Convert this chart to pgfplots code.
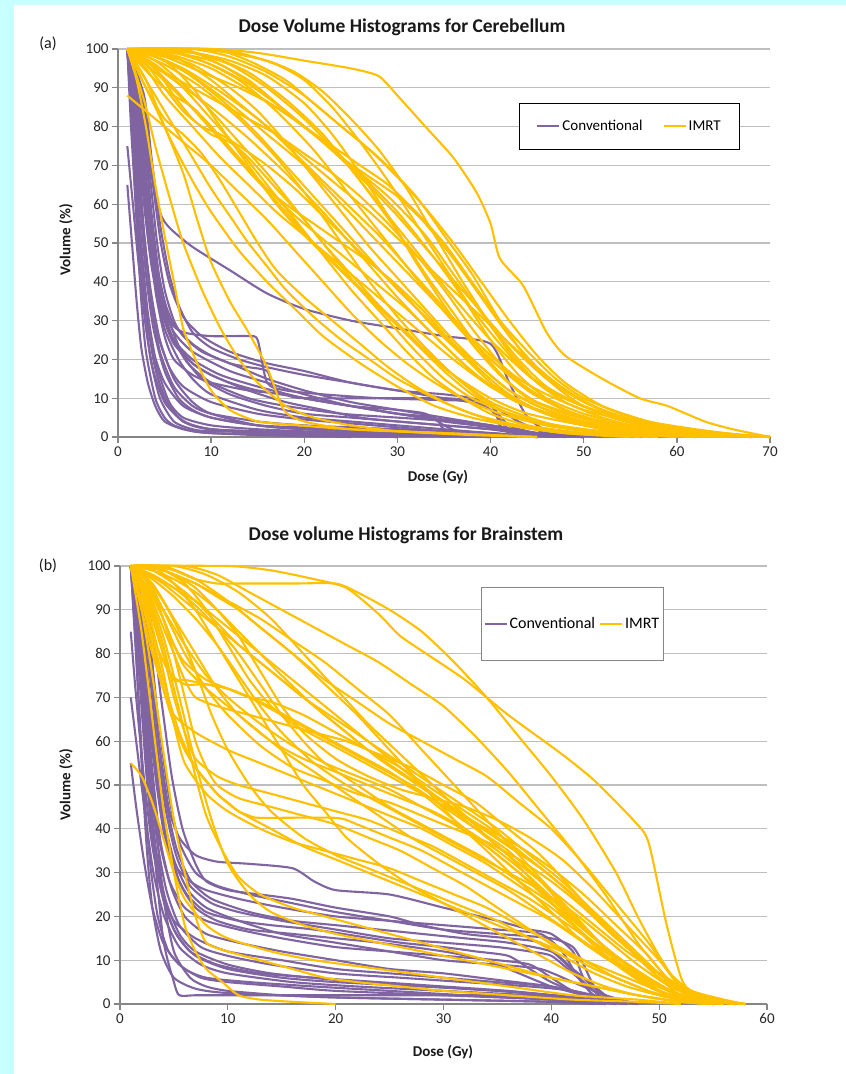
\documentclass[border=0pt]{standalone}
\usepackage{fontspec}
\setmainfont{Carlito}
\usepackage{pgfplots}
\pgfplotsset{compat=1.18}
\definecolor{convc}{HTML}{8064A2}
\definecolor{imrtc}{HTML}{FFC000}
\definecolor{bgcyan}{HTML}{C8FFFF}
\definecolor{gridc}{HTML}{BEBEBE}
\definecolor{axc}{HTML}{868686}
\pgfplotsset{
  conv/.style={color=convc, line width=2.1pt, forget plot, smooth, tension=0.4},
  imrt/.style={color=imrtc, line width=2.1pt, forget plot, smooth, tension=0.4},
  dvh/.style={
    scale only axis, clip=false,
    ymin=0, ymax=100, ytick={0,10,...,100},
    axis x line*=bottom, axis y line*=left,
    axis line style={-, color=axc, line width=1.3pt},
    tick style={color=axc, line width=1.3pt},
    tick align=outside, major tick length=6pt,
    ymajorgrids, grid style={color=gridc, line width=1.3pt},
    /pgf/number format/assume math mode=true,
    ticklabel style={font=\fontsize{15}{18}\selectfont, color=black!85},
    legend columns=2,
    legend image code/.code={\draw[#1, line width=2.1pt] (0pt,0pt) -- (22pt,0pt);},
  }
}
\begin{document}
\begin{tikzpicture}
\fill[bgcyan] (0pt,0pt) rectangle (846pt,-1074pt);
\fill[white] (14pt,-5pt) rectangle (846pt,-1074pt);
\node[font=\bfseries\fontsize{19.5}{22}\selectfont, color=black!90] at (402pt,-27pt) {Dose Volume Histograms for Cerebellum};
\node[font=\fontsize{16}{19}\selectfont, color=black!90] at (48pt,-44pt) {(a)};
\node[font=\bfseries\fontsize{15}{18}\selectfont, color=black!90] at (438pt,-477pt) {Dose (Gy)};
\node[font=\bfseries\fontsize{15}{18}\selectfont, rotate=90, color=black!90] at (66pt,-240pt) {Volume (\%)};
\node[font=\bfseries\fontsize{19.5}{22}\selectfont, color=black!90] at (406pt,-535pt) {Dose volume Histograms for Brainstem};
\node[font=\fontsize{16}{19}\selectfont, color=black!90] at (48pt,-566pt) {(b)};
\node[font=\bfseries\fontsize{15}{18}\selectfont, color=black!90] at (443pt,-1052pt) {Dose (Gy)};
\node[font=\bfseries\fontsize{15}{18}\selectfont, rotate=90, color=black!90] at (66pt,-785pt) {Volume (\%)};

% ---------------- Panel (a) ----------------
\begin{axis}[dvh, at={(118pt,-437pt)}, anchor=south west,
  width=652pt, height=388pt, xmin=0, xmax=70, xtick={0,10,...,70},
  legend style={at={(0.615,0.861)}, anchor=north west, draw=black, line width=0.8pt,
    font=\fontsize{15}{18}\selectfont, inner xsep=17pt, inner ysep=15pt,
    /tikz/every even column/.append style={column sep=18pt}}]
\addlegendimage{color=convc}\addlegendentry{Conventional}
\addlegendimage{color=imrtc}\addlegendentry{IMRT}
% Conventional
\addplot[conv] coordinates {(1,100)(1.5,80)(2,55)(2.5,35)(3,22)(4,10)(5,5)(6,3)(8,1.5)(10,1)(15,0.5)(25,0)};
\addplot[conv] coordinates {(1,100)(1.7,80)(2.3,55)(3,35)(3.8,20)(5,10)(7,4)(10,2)(20,1)(30,0.3)(40,0)};
\addplot[conv] coordinates {(1,100)(2,80)(2.7,55)(3.5,38)(4.5,25)(6,15)(8,9)(10,6)(15,3)(20,2)(30,1)(40,0.5)(50,0)};
\addplot[conv] coordinates {(1,100)(2.2,82)(3,60)(3.8,42)(5,28)(6.5,20)(8,15)(10,11)(15,7)(20,5)(25,4)(30,3)(35,2)(40,1)(45,0)};
\addplot[conv] coordinates {(1,100)(2.5,85)(3.3,65)(4,45)(5,33)(6,27)(8,22)(12,17)(16,14)(20,11)(25,8)(30,6)(35,4)(40,2.5)(45,0.5)(50,0)};
\addplot[conv] coordinates {(1,100)(2.5,88)(3.5,70)(4.5,58)(5.5,54)(8,49)(12,43)(16,37)(20,33)(25,30)(30,28)(35,26)(40,24)(42,14)(44,5)(47,0)};
\addplot[conv] coordinates {(1,100)(2.5,88)(3.5,60)(4.5,40)(5.5,30)(7,27)(10,26)(14,26)(15,25)(16,14)(18,12)(22,11)(28,10)(35,9.5)(40,9)(41,3)(43,1)(45,0)};
\addplot[conv] coordinates {(1,100)(2,85)(3,60)(4,38)(5,26)(6,20)(8,16)(10,14)(14,12)(18,11)(20,10)(35,10)(38,9)(40,7)(42,2)(45,0)};
\addplot[conv] coordinates {(1,100)(1.8,75)(2.5,50)(3.2,32)(4.2,18)(5.5,9)(7,5)(10,3)(15,2)(25,1)(35,0.5)(45,0)};
\addplot[conv] coordinates {(1,100)(2.2,80)(3,58)(4,40)(5,30)(6,24)(8,19)(10,16)(14,12)(18,9)(22,7)(26,5)(30,4)(35,3)(40,2)(44,0.5)(48,0)};
\addplot[conv] coordinates {(1,100)(2.4,83)(3.2,62)(4,46)(5,35)(6,29)(8,24)(10,21)(13,18)(16,15)(20,12)(25,9)(30,7)(35,5)(40,3)(45,1)(50,0)};
\addplot[conv] coordinates {(1,100)(1.5,85)(2,65)(2.5,45)(3,30)(3.5,20)(4.5,10)(6,4)(8,2)(10,1.5)(20,1)(30,0.5)(40,0)};
\addplot[conv] coordinates {(1,100)(2,78)(2.8,52)(3.6,34)(4.5,22)(6,13)(8,8)(10,6)(15,4)(20,3)(30,2)(40,1)(45,0)};
\addplot[conv] coordinates {(1,100)(2.6,86)(3.4,68)(4.2,50)(5,38)(6,30)(7,26)(9,22)(12,19)(14,18)(16,17)(17,12)(20,10)(25,8)(30,6)(34,5)(35,2)(38,1)(42,0)};
\addplot[conv] coordinates {(1,100)(2.3,82)(3.1,60)(4,42)(5,31)(6,25)(8,20)(11,16)(15,13)(20,10)(25,8)(30,7)(33,6)(35,3)(37,1)(40,0)};
\addplot[conv] coordinates {(1,100)(2,80)(2.6,58)(3.3,40)(4.2,27)(5.5,18)(7,13)(10,9)(15,6)(20,4.5)(25,3.5)(30,2.5)(35,1.5)(40,1)(45,0)};
\addplot[conv] coordinates {(1,100)(1.6,80)(2.1,58)(2.7,40)(3.4,26)(4.3,15)(5.5,8)(7,4)(10,2)(15,1.5)(25,1)(40,0.5)(50,0)};
\addplot[conv] coordinates {(1,100)(2.8,88)(3.6,72)(4.5,55)(5.5,42)(6.5,34)(8,27)(10,23)(13,20)(16,18)(20,16)(25,14)(30,12)(35,11)(38,10)(40,8)(42,3)(45,1)(50,0)};
\addplot[conv] coordinates {(1,100)(2.4,84)(3.2,62)(4.2,44)(5.5,30)(7,21)(9,15)(12,11)(16,8)(20,6)(25,5)(30,4)(35,3)(40,2)(45,1)(50,0.3)(52,0)};
\addplot[conv] coordinates {(1,100)(1.8,82)(2.4,60)(3,42)(3.8,28)(5,17)(6.5,10)(8,7)(10,5)(15,3)(20,2)(30,1)(40,0.5)(50,0)};
\addplot[conv] coordinates {(1,65)(1.5,50)(2,35)(2.5,23)(3.2,14)(4,8)(5,4)(7,2)(10,1)(20,0.5)(30,0)};
\addplot[conv] coordinates {(1,75)(1.6,60)(2.2,45)(2.9,32)(3.8,22)(5,14)(7,8)(10,5)(15,3)(25,2)(35,1)(45,0)};
\addplot[conv] coordinates {(1,100)(2.1,84)(2.9,64)(3.7,47)(4.6,35)(5.8,26)(7.5,19)(10,14)(14,10)(18,8)(24,6)(30,5)(36,4)(40,3)(44,1)(48,0)};
\addplot[conv] coordinates {(1,100)(2.7,87)(3.6,68)(4.6,50)(5.6,39)(7,31)(9,26)(12,22)(16,19)(20,17)(25,14)(30,12)(35,10)(40,8)(43,4)(46,1)(50,0)};
\addplot[conv] coordinates {(1,100)(1.4,80)(1.9,60)(2.4,42)(3,28)(3.8,17)(5,9)(6.5,5)(8,3)(10,2)(15,1)(20,0.5)(30,0)};
\addplot[conv] coordinates {(1,100)(2,82)(2.8,60)(3.6,44)(4.6,33)(6,25)(8,19)(10,16)(12,14)(15,12)(20,10)(25,8)(30,6)(35,4.5)(40,3)(45,1)(50,0)};
% IMRT
\addplot[imrt] coordinates {(1,100)(10,100)(15,99)(20,97)(25,95)(28,93)(30,88)(33,80)(36,72)(38.5,63)(40,55)(41,46)(43.5,39)(46,27)(48,21)(52,15)(56,10)(59,8)(63,4)(66,2)(70,0)};
\addplot[imrt] coordinates {(1,100)(8,100)(12,98)(16,94)(20,88)(24,80)(28,72)(32,62)(35,52)(38,42)(41,30)(44,20)(47,13)(50,8)(55,4)(60,2)(65,0.5)(70,0)};
\addplot[imrt] coordinates {(1,100)(5,99)(10,95)(15,88)(20,80)(25,70)(30,58)(34,46)(37,36)(40,25)(43,16)(46,10)(50,6)(55,3)(62,1)(70,0)};
\addplot[imrt] coordinates {(1,100)(4,98)(8,93)(12,86)(16,78)(20,70)(24,60)(28,50)(32,40)(36,30)(40,20)(44,12)(48,7)(52,4)(58,2)(65,0.5)(70,0)};
\addplot[imrt] coordinates {(1,100)(6,100)(10,98)(14,94)(18,87)(22,78)(26,66)(30,53)(33,42)(36,32)(39,22)(42,14)(45,9)(50,5)(55,3)(60,1.5)(68,0)};
\addplot[imrt] coordinates {(1,100)(3,97)(6,92)(10,85)(14,77)(18,68)(22,58)(26,47)(30,36)(34,26)(38,17)(42,10)(46,6)(50,3)(55,1)(60,0)};
\addplot[imrt] coordinates {(1,100)(5,98)(9,94)(13,90)(17,85)(21,78)(25,70)(29,62)(33,52)(36,42)(39,32)(42,22)(45,14)(48,9)(52,5)(57,2)(63,0.5)(70,0)};
\addplot[imrt] coordinates {(1,100)(4,96)(7,90)(10,82)(13,74)(16,65)(19,56)(22,47)(25,38)(28,30)(31,22)(34,15)(37,10)(40,6)(44,3)(50,1)(56,0)};
\addplot[imrt] coordinates {(1,100)(3,95)(5,88)(8,80)(11,72)(14,65)(17,58)(20,52)(24,44)(28,36)(32,28)(36,20)(40,13)(44,8)(48,5)(54,2)(60,0.5)(66,0)};
\addplot[imrt] coordinates {(1,100)(8,99)(12,97)(16,93)(20,86)(23,78)(26,68)(29,57)(32,45)(35,34)(38,24)(41,16)(44,10)(48,6)(53,3)(60,1)(68,0)};
\addplot[imrt] coordinates {(1,100)(6,99)(10,97)(14,92)(17,86)(20,80)(23,75)(26,70)(29,65)(32,58)(35,50)(38,40)(41,30)(44,22)(47,15)(50,10)(54,6)(58,3)(63,1)(70,0)};
\addplot[imrt] coordinates {(1,100)(2,95)(4,85)(6,75)(8,66)(10,58)(13,48)(16,40)(19,33)(22,26)(26,19)(30,13)(34,8)(38,5)(42,3)(48,1)(55,0)};
\addplot[imrt] coordinates {(1,100)(2,93)(3,85)(4,75)(5.5,62)(7,50)(9,38)(11,28)(13,20)(15,14)(18,8)(21,5)(25,3)(30,1.5)(38,0.5)(45,0)};
\addplot[imrt] coordinates {(1,100)(2,92)(3,80)(4,65)(5,52)(6,40)(7,28)(8.5,19)(10,12)(12,7)(15,4)(19.5,3)(25,2)(35,1)(45,0)};
\addplot[imrt] coordinates {(1,100)(3,92)(5,80)(7,68)(8.5,56)(10,45)(12,35)(14,27)(16,18)(17.8,7)(20,4)(25,2)(35,1)(45,0)};
\addplot[imrt] coordinates {(1,100)(4,97)(7,91)(10,84)(13,76)(16,68)(19,59)(22,50)(25,42)(28,34)(31,27)(34,20)(37,14)(40,9)(43,6)(47,3)(52,1.5)(58,0.5)(65,0)};
\addplot[imrt] coordinates {(1,100)(5,97)(8,90)(11,80)(14,70)(17,60)(20,52)(23,45)(26,38)(29,31)(32,24)(35,17)(38,11)(41,7)(45,4)(50,2)(56,0.5)(62,0)};
\addplot[imrt] coordinates {(1,100)(10,100)(14,97)(18,92)(21,86)(24,80)(27,74)(30,67)(33,59)(36,50)(39,40)(42,30)(45,21)(48,14)(52,8)(57,4)(62,2)(67,0.5)(70,0)};
\addplot[imrt] coordinates {(1,100)(3,99)(6,96)(9,91)(12,85)(15,78)(18,70)(21,62)(24,54)(27,46)(30,38)(33,31)(36,24)(39,18)(42,12)(45,8)(50,4)(56,1.5)(62,0)};
\addplot[imrt] coordinates {(1,100)(2,97)(4,92)(6,88)(8,85)(10,80)(12,74)(15,66)(18,58)(21,50)(24,43)(27,36)(30,29)(33,22)(36,16)(40,10)(44,6)(50,3)(56,1)(62,0)};
\addplot[imrt] coordinates {(1,100)(3,96)(5,90)(7,84)(9,80)(11,78)(13,75)(16,70)(19,64)(22,57)(25,50)(28,43)(31,36)(34,28)(37,21)(40,14)(43,9)(47,5)(52,2)(58,0.5)(64,0)};
\addplot[imrt] coordinates {(1,100)(6,98)(10,92)(13,86)(16,80)(19,73)(22,66)(25,59)(28,52)(31,44)(34,36)(37,28)(40,21)(43,15)(46,11)(50,7)(55,4)(60,2)(65,1)(70,0)};
\addplot[imrt] coordinates {(1,100)(4,99)(8,96)(12,90)(15,84)(18,76)(21,67)(24,58)(27,49)(30,41)(33,33)(36,25)(39,18)(42,12)(46,7)(50,4)(56,1.5)(62,0)};
\addplot[imrt] coordinates {(1,100)(2,98)(5,94)(8,90)(11,86)(14,82)(17,78)(20,73)(23,68)(26,62)(29,55)(32,47)(35,38)(38,28)(41,19)(44,12)(47,8)(51,4)(56,2)(62,0.5)(68,0)};
\addplot[imrt] coordinates {(1,100)(3,90)(5,82)(7,78)(9,73)(11,66)(13,58)(15,50)(17,43)(20,36)(23,30)(26,24)(29,18)(32,13)(35,9)(38,6)(42,3)(48,1)(55,0)};
\addplot[imrt] coordinates {(1,100)(7,100)(11,96)(15,90)(18,84)(21,78)(24,72)(27,67)(30,62)(33,55)(36,46)(39,36)(42,26)(45,18)(48,12)(52,7)(57,3)(63,1)(70,0)};
\addplot[imrt] coordinates {(1,100)(4,95)(6,88)(8,82)(10,78)(12,76)(14,72)(17,64)(20,56)(23,47)(26,38)(29,30)(32,22)(35,15)(38,10)(42,6)(47,3)(53,1)(60,0)};
\addplot[imrt] coordinates {(1,88)(2,86)(4,82)(7,76)(10,70)(13,63)(16,56)(19,48)(22,40)(25,32)(28,25)(31,19)(34,14)(37,10)(41,6)(46,3)(52,1)(58,0)};
\addplot[imrt] coordinates {(1,100)(5,96)(9,90)(13,82)(17,72)(21,60)(24,50)(27,40)(30,31)(33,23)(36,16)(39,10)(42,6)(46,3)(52,1)(58,0)};
\addplot[imrt] coordinates {(1,100)(9,100)(13,99)(17,96)(20,92)(23,85)(26,76)(29,66)(32,55)(35,44)(38,33)(41,24)(44,16)(47,11)(51,7)(56,4)(61,2)(66,0.5)(70,0)};
\addplot[imrt] coordinates {(1,100)(4,100)(8,99)(12,96)(16,90)(20,82)(24,72)(28,60)(32,48)(36,36)(40,25)(44,16)(48,10)(53,5)(58,2)(64,0.5)(70,0)};
\addplot[imrt] coordinates {(1,100)(5,100)(9,97)(13,92)(17,84)(21,74)(25,62)(29,50)(33,38)(37,27)(41,18)(45,11)(49,6)(54,3)(60,1)(66,0)};
\addplot[imrt] coordinates {(1,100)(3,99)(7,95)(11,89)(15,82)(19,74)(23,66)(27,58)(31,49)(35,40)(39,31)(43,22)(47,14)(51,8)(56,4)(62,1.5)(68,0)};
\addplot[imrt] coordinates {(1,100)(6,99)(10,96)(14,91)(18,84)(22,76)(26,67)(30,57)(34,46)(38,35)(42,24)(46,15)(50,9)(55,4)(61,1.5)(68,0)};
\addplot[imrt] coordinates {(1,100)(2,98)(4,94)(7,87)(10,80)(13,72)(16,64)(19,57)(22,51)(25,45)(28,39)(31,33)(34,26)(37,19)(40,13)(44,8)(49,4)(55,1.5)(62,0)};
\addplot[imrt] coordinates {(1,100)(8,100)(12,99)(16,97)(19,94)(22,89)(25,82)(28,74)(31,64)(34,52)(37,40)(40,29)(43,20)(46,13)(50,8)(55,4)(60,2)(66,0.5)(70,0)};
\addplot[imrt] coordinates {(1,100)(3,97)(6,90)(9,82)(12,74)(15,66)(18,60)(21,55)(24,50)(27,45)(30,39)(33,32)(36,24)(39,17)(42,11)(46,6)(51,3)(57,1)(63,0)};
\addplot[imrt] coordinates {(1,100)(2,96)(4,88)(6,80)(8,72)(10,64)(12,57)(14,50)(16,44)(18,38)(21,31)(24,25)(27,20)(30,15)(34,10)(38,6)(43,3)(50,1)(57,0)};
\end{axis}

% ---------------- Panel (b) ----------------
\begin{axis}[dvh, at={(120pt,-1004pt)}, anchor=south west,
  width=647pt, height=438pt, xmin=0, xmax=60, xtick={0,10,...,60},
  legend style={at={(0.558,0.952)}, anchor=north west, draw=axc, line width=1pt,
    font=\fontsize{16}{19}\selectfont, inner xsep=2pt, inner ysep=28pt,
    /tikz/every even column/.append style={column sep=2pt}}]
\addlegendimage{color=convc}\addlegendentry{Conventional}
\addlegendimage{color=imrtc}\addlegendentry{IMRT}
% Conventional
\addplot[conv] coordinates {(1,100)(2,75)(3,40)(4,15)(5,5)(5.5,2)(7,2)(10,2)(20,2)(30,2)(40,2)(42,1)(45,0)};
\addplot[conv] coordinates {(1,100)(2,80)(3,50)(4,25)(5,12)(6.5,6)(8,4)(10,3)(15,2)(20,1.5)(30,1)(40,0.5)(45,0)};
\addplot[conv] coordinates {(1,100)(2.5,85)(3.5,62)(4.5,45)(5.5,38)(7,34)(9,32.5)(12,32)(16,31)(18,28)(20,26)(25,25)(30,22)(35,19)(38,17)(40,16)(42,12)(43,6)(45,2)(48,0)};
\addplot[conv] coordinates {(1,100)(2.2,82)(3,58)(4,40)(5,32)(6.5,28)(8,26)(11,24)(15,22)(20,20)(25,19)(30,18)(35,17)(39,16)(41,12)(42.5,6)(44,2)(47,0)};
\addplot[conv] coordinates {(1,100)(2,80)(2.8,55)(3.6,38)(4.6,28)(6,22)(8,19)(11,17)(15,15)(20,13)(25,12)(30,11)(35,10)(38,9)(40,6)(42,3)(45,1)(48,0)};
\addplot[conv] coordinates {(1,100)(1.8,78)(2.5,52)(3.2,35)(4,25)(5,19)(7,15)(10,12)(15,10)(20,8)(25,7)(30,6)(35,5)(40,4)(43,2)(46,0)};
\addplot[conv] coordinates {(1,100)(2.4,84)(3.3,62)(4.2,45)(5.2,34)(6.5,27)(8.5,23)(11,21)(15,19)(20,17)(25,15)(30,14)(35,13)(38,12)(40,11)(42,7)(44,3)(47,0)};
\addplot[conv] coordinates {(1,100)(2.1,80)(2.9,56)(3.7,38)(4.7,27)(6,20)(8,16)(11,14)(15,12)(20,10)(25,8)(30,7)(35,5.5)(40,4)(44,2)(48,0)};
\addplot[conv] coordinates {(1,100)(1.6,75)(2.2,50)(2.8,32)(3.5,20)(4.5,12)(6,8)(8,6)(12,5)(18,4)(25,3)(32,2)(40,1)(45,0)};
\addplot[conv] coordinates {(1,100)(2.6,86)(3.5,66)(4.5,48)(5.5,37)(7,30)(9,27)(12,25)(16,23)(20,21)(25,19)(30,17)(35,16)(40,15)(42,13)(43,9)(44,4)(46,0)};
\addplot[conv] coordinates {(1,100)(2,79)(2.7,55)(3.4,38)(4.3,26)(5.5,18)(7.5,13)(10,11)(14,9)(20,7)(26,6)(32,5)(38,4)(42,3)(45,1)(48,0)};
\addplot[conv] coordinates {(1,100)(2.3,83)(3.1,60)(4,42)(5,31)(6.2,25)(8,21)(11,19)(14,18)(18,17)(22,15.5)(26,14)(30,13)(33,12)(36,11)(38,8)(40,5)(43,2)(46,0)};
\addplot[conv] coordinates {(1,100)(1.9,78)(2.6,54)(3.3,36)(4.2,24)(5.5,16)(7,12)(10,9)(14,7)(20,5.5)(26,4.5)(32,3.5)(38,2.5)(42,1.5)(46,0)};
\addplot[conv] coordinates {(1,100)(2.8,88)(3.8,70)(4.8,52)(5.8,40)(7,32)(8,28)(10,26)(13,25)(16,24)(20,22)(25,20)(28,18)(32,16)(36,15)(39,14)(41,10)(43,5)(45,1)(47,0)};
\addplot[conv] coordinates {(1,100)(1.5,80)(2,55)(2.5,35)(3,22)(3.8,12)(5,6)(7,3.5)(10,2.5)(20,1.5)(30,1)(40,0.5)(44,0)};
\addplot[conv] coordinates {(1,85)(1.5,70)(2.2,52)(3,36)(4,24)(5.2,16)(7,11)(10,8)(15,6)(20,5)(28,4)(35,3)(40,2)(44,1)(47,0)};
\addplot[conv] coordinates {(1,70)(1.6,58)(2.3,44)(3.1,30)(4.1,20)(5.5,13)(7.5,9)(10,7)(16,5)(22,4)(30,3)(38,2)(43,1)(46,0)};
\addplot[conv] coordinates {(1,100)(2.2,82)(3,60)(3.9,44)(5,33)(6.3,26)(8,22)(11,19)(15,16)(20,14)(25,12)(30,10)(35,9)(39,8)(42,5)(45,2)(48,0)};
\addplot[conv] coordinates {(1,100)(2.5,85)(3.4,64)(4.3,46)(5.3,35)(6.6,28)(8.5,24)(12,21)(16,19)(20,18)(24,17)(28,16)(32,15)(36,14)(40,12)(42,8)(44,4)(46,0)};
\addplot[conv] coordinates {(1,100)(1.7,78)(2.4,54)(3.1,36)(4,24)(5,17)(6.5,12)(9,9)(13,7)(18,6)(24,5)(30,4)(36,3)(40,2)(44,1)(47,0)};
\addplot[conv] coordinates {(1,100)(2.3,80)(3.2,58)(4.2,40)(5.5,28)(7,22)(9,19)(12,17)(16,16)(20,15)(24,14)(30,12)(34,10)(37,7)(40,4)(43,2)(46,0)};
\addplot[conv] coordinates {(1,55)(1.5,45)(2.2,33)(3,22)(4,14)(5.5,9)(7.5,6)(10,5)(15,4)(20,3)(30,2)(40,1)(45,0)};
% IMRT
\addplot[imrt] coordinates {(1,100)(10,100)(14,99)(18,97)(21,95)(24,89)(26,84)(29,79)(32,74)(36,66)(41,57)(44,51)(47.6,42)(49,37)(50.7,18)(52.2,5)(54,1.5)(57,0)};
\addplot[imrt] coordinates {(1,100)(6,100)(9,98)(12,94)(15,90)(18,86)(21,82)(24,78)(27,73)(30,68)(33,61)(36,53)(39,44)(42,35)(45,25)(48,14)(50,8)(52,3)(55,1)(58,0)};
\addplot[imrt] coordinates {(1,100)(4,99)(7,96)(10,92)(13,88)(16,83)(19,78)(22,72)(25,66)(28,58)(31,50)(34,42)(37,34)(40,26)(43,18)(46,10)(48,6)(51,2)(55,0)};
\addplot[imrt] coordinates {(1,100)(3,98)(5,95)(7,92)(9,88)(12,82)(15,76)(18,70)(21,64)(24,58)(27,52)(30,46)(33,40)(36,34)(39,26)(42,18)(45,11)(48,6)(51,2)(55,0)};
\addplot[imrt] coordinates {(1,100)(2,97)(4,90)(6,82)(8,75)(10,70)(13,64)(16,59)(19,55)(22,52)(25,49)(28,45)(31,41)(34,36)(37,30)(40,23)(43,16)(46,9)(49,4)(52,1)(56,0)};
\addplot[imrt] coordinates {(1,100)(3,96)(5,88)(7,80)(9,72)(11,66)(14,60)(17,56)(20,53)(23,50)(26,47)(29,44)(32,40)(35,35)(38,29)(41,22)(44,15)(47,9)(50,4)(53,1)(56,0)};
\addplot[imrt] coordinates {(1,100)(2,90)(3,80)(4,72)(5,66)(7,62)(10,58)(13,55)(16,52)(19,49)(22,46)(25,43)(28,40)(31,36)(34,32)(37,27)(40,22)(43,16)(46,10)(49,5)(52,2)(55,0)};
\addplot[imrt] coordinates {(1,100)(2,92)(3,84)(4.5,76)(6,73)(8,73)(10,72)(13,69)(16,65)(19,61)(22,57)(25,53)(28,48)(31,42)(34,36)(37,30)(40,24)(43,17)(46,11)(49,6)(52,2)(56,0)};
\addplot[imrt] coordinates {(1,100)(3,100)(5,96)(7,90)(9,82)(11,74)(13,66)(15,58)(17,50)(19,44)(21,38)(24,32)(27,27)(30,23)(33,19)(36,15)(39,11)(42,7)(45,4)(48,2)(52,0.5)(55,0)};
\addplot[imrt] coordinates {(1,100)(2,95)(3,86)(4,76)(5,64)(6,55)(8,48)(10,44)(13,40)(16,37)(19,35)(22,33)(25,31)(28,28)(31,25)(34,22)(37,18)(40,14)(43,10)(46,6)(49,3)(52,1)(55,0)};
\addplot[imrt] coordinates {(1,100)(2.5,97)(4,92)(5.5,85)(7,76)(8.5,66)(10,58)(12,50)(14,44)(17,38)(20,34)(23,31)(26,28)(29,25)(32,22)(35,19)(38,15)(41,11)(44,7)(47,4)(50,2)(54,0)};
\addplot[imrt] coordinates {(1,100)(3,98)(5,95)(7,91)(9,86)(11,80)(13,73)(15,66)(17,60)(19,55)(22,50)(25,45)(28,41)(31,37)(34,33)(37,28)(40,23)(43,17)(46,11)(49,6)(52,2)(56,0)};
\addplot[imrt] coordinates {(1,100)(2,96)(3,90)(4,82)(5,72)(6,62)(7,52)(8,43)(9.5,35)(11,29)(13,25)(16,22)(19,20)(22,18)(25,16)(28,14)(31,12)(34,10)(37,8)(40,6)(44,4)(48,2)(52,0.5)(55,0)};
\addplot[imrt] coordinates {(1,100)(2,90)(3,75)(4,58)(5,42)(6,30)(7,20)(8,14)(10,12)(13,10)(16,8)(19,6)(22,5)(26,4)(30,3)(36,2)(42,1)(48,0.5)(52,0)};
\addplot[imrt] coordinates {(1,100)(2,85)(3,65)(4,45)(5,30)(6,18)(7,12)(8,8)(9.5,5)(11,2)(13,1)(16,0.5)(20,0)};
\addplot[imrt] coordinates {(1,100)(2.5,94)(4,84)(5.5,70)(7,55)(8.5,42)(10,32)(12,25)(14,21)(17,18)(20,16)(24,14)(28,12)(32,10)(36,8)(40,6)(44,4)(48,2)(52,0.5)(55,0)};
\addplot[imrt] coordinates {(1,100)(3,99)(5,97)(7,94)(9,90)(11,85)(13,80)(15,75)(18,68)(21,62)(24,56)(27,51)(30,46)(33,41)(36,36)(39,31)(42,25)(45,18)(48,11)(51,5)(54,1.5)(57,0)};
\addplot[imrt] coordinates {(1,100)(4,100)(7,97)(10,92)(13,86)(16,80)(19,74)(22,69)(25,64)(28,60)(31,56)(34,52)(37,46)(40,40)(43,32)(46,23)(49,14)(51,7)(53,3)(56,0.5)(58,0)};
\addplot[imrt] coordinates {(1,100)(3,97)(5,93)(7,88)(9,82)(11,75)(13,68)(15,62)(18,55)(21,50)(24,46)(27,42)(30,38)(33,34)(36,30)(39,26)(42,21)(45,15)(48,9)(51,4)(54,1)(57,0)};
\addplot[imrt] coordinates {(1,100)(2,98)(3,95)(4,90)(6,80)(8,72)(10,66)(13,59)(16,54)(19,51)(22,48)(25,46)(28,43)(31,40)(34,37)(37,33)(40,28)(43,22)(46,15)(49,9)(52,3)(55,1)(58,0)};
\addplot[imrt] coordinates {(1,100)(5,100)(8,98)(11,94)(14,88)(17,80)(20,72)(23,64)(26,57)(29,50)(32,43)(35,36)(38,30)(41,24)(44,18)(47,12)(50,7)(53,3)(56,1)(58,0)};
\addplot[imrt] coordinates {(1,100)(2,94)(3,84)(4,74)(5.5,62)(7,54)(9,48)(11,44)(14,40)(17,36)(20,33)(23,30)(26,27)(29,24)(32,21)(35,18)(38,15)(41,12)(44,9)(47,6)(50,3)(53,1)(56,0)};
\addplot[imrt] coordinates {(1,100)(3,100)(5,98)(7,95)(9,90)(11,84)(13,76)(15,68)(17,62)(20,56)(23,52)(26,49)(29,47)(32,45)(35,42)(38,38)(41,33)(44,26)(47,18)(50,10)(52,4)(55,1)(58,0)};
\addplot[imrt] coordinates {(1,100)(2,97)(3,93)(4,88)(5,82)(6,77)(8,72)(10,68)(12,64)(15,58)(18,53)(21,48)(24,43)(27,38)(30,34)(33,30)(36,26)(39,21)(42,16)(45,11)(48,7)(51,3)(54,1)(57,0)};
\addplot[imrt] coordinates {(1,100)(3,100)(5,98)(7,96)(9,93)(11,90)(13,86)(16,80)(19,73)(22,66)(25,58)(28,50)(31,42)(34,35)(37,28)(40,21)(43,14)(46,9)(49,5)(52,2)(55,0.5)(58,0)};
\addplot[imrt] coordinates {(1,100)(2,97)(3,92)(4,86)(5,80)(6,74)(7,70)(9,68)(12,66)(15,64)(18,62)(21,60)(24,57)(27,54)(30,50)(33,46)(36,40)(39,34)(42,26)(45,18)(48,11)(51,5)(54,1)(57,0)};
\addplot[imrt] coordinates {(1,100)(2,99)(4,96)(6,92)(8,88)(10,84)(12,80)(14,76)(17,70)(20,64)(23,58)(26,53)(29,48)(32,43)(35,38)(38,33)(41,27)(44,20)(47,13)(50,6)(52,2)(55,0)};
\addplot[imrt] coordinates {(1,100)(2,92)(3,82)(4,72)(5,64)(6,58)(7,54)(8,51)(9,48)(10,46)(11,44)(12,43)(13,42.5)(20,42.5)(22,41)(25,38)(28,35)(31,31)(34,27)(37,23)(40,19)(43,14)(46,9)(49,5)(52,2)(55,0)};
\addplot[imrt] coordinates {(1,100)(3,100)(5,99)(7,97)(9,96)(11,96)(16,96)(20,96)(22,94)(25,90)(28,85)(31,78)(34,70)(37,61)(40,52)(43,42)(46,30)(48,20)(50,11)(52,4)(55,1)(57,0)};
\addplot[imrt] coordinates {(1,100)(2,95)(3,88)(4,80)(5,74)(6,74)(8,73)(10,72)(12,70)(15,66)(18,62)(21,58)(24,54)(27,50)(30,45)(33,40)(36,35)(39,28)(42,20)(45,13)(48,7)(51,3)(54,1)(57,0)};
\addplot[imrt] coordinates {(1,100)(2,99)(3,95)(4,88)(5,80)(6,70)(7,60)(8,54)(9,50)(11,47)(14,45)(17,43)(20,41)(23,38)(26,35)(29,31)(32,27)(35,22)(38,17)(41,12)(44,8)(47,5)(50,2)(53,0.5)(56,0)};
\addplot[imrt] coordinates {(1,100)(4,99)(6,96)(8,90)(10,82)(12,74)(14,68)(16,64)(19,60)(22,56)(25,52)(28,48)(31,44)(34,40)(37,36)(40,31)(43,25)(46,18)(49,11)(51,5)(53,2)(56,0)};
\addplot[imrt] coordinates {(1,55)(2,52)(3,46)(4,38)(5,30)(6,24)(8,18)(10,15)(14,12)(18,10)(24,8)(30,6)(36,4)(42,2)(48,1)(52,0)};
\addplot[imrt] coordinates {(1,100)(2,98)(3,94)(4,88)(5,82)(6,78)(8,74)(10,72)(12,70)(14,69)(17,66)(20,62)(23,58)(26,54)(29,49)(32,44)(35,39)(38,33)(41,27)(44,20)(47,13)(50,6)(53,2)(56,0)};
\addplot[imrt] coordinates {(1,100)(3,99)(5,96)(7,92)(9,87)(11,82)(14,76)(17,70)(20,65)(23,60)(26,55)(29,50)(32,45)(35,40)(38,34)(41,28)(44,21)(47,14)(50,7)(53,2)(56,0)};
\addplot[imrt] coordinates {(1,100)(2,96)(3,89)(4,80)(5,70)(6,62)(7,56)(9,52)(11,50)(14,48)(17,46)(20,44)(23,42)(26,39)(29,36)(32,32)(35,28)(38,24)(41,19)(44,14)(47,9)(50,4)(53,1)(56,0)};
\end{axis}
\end{tikzpicture}
\end{document}
